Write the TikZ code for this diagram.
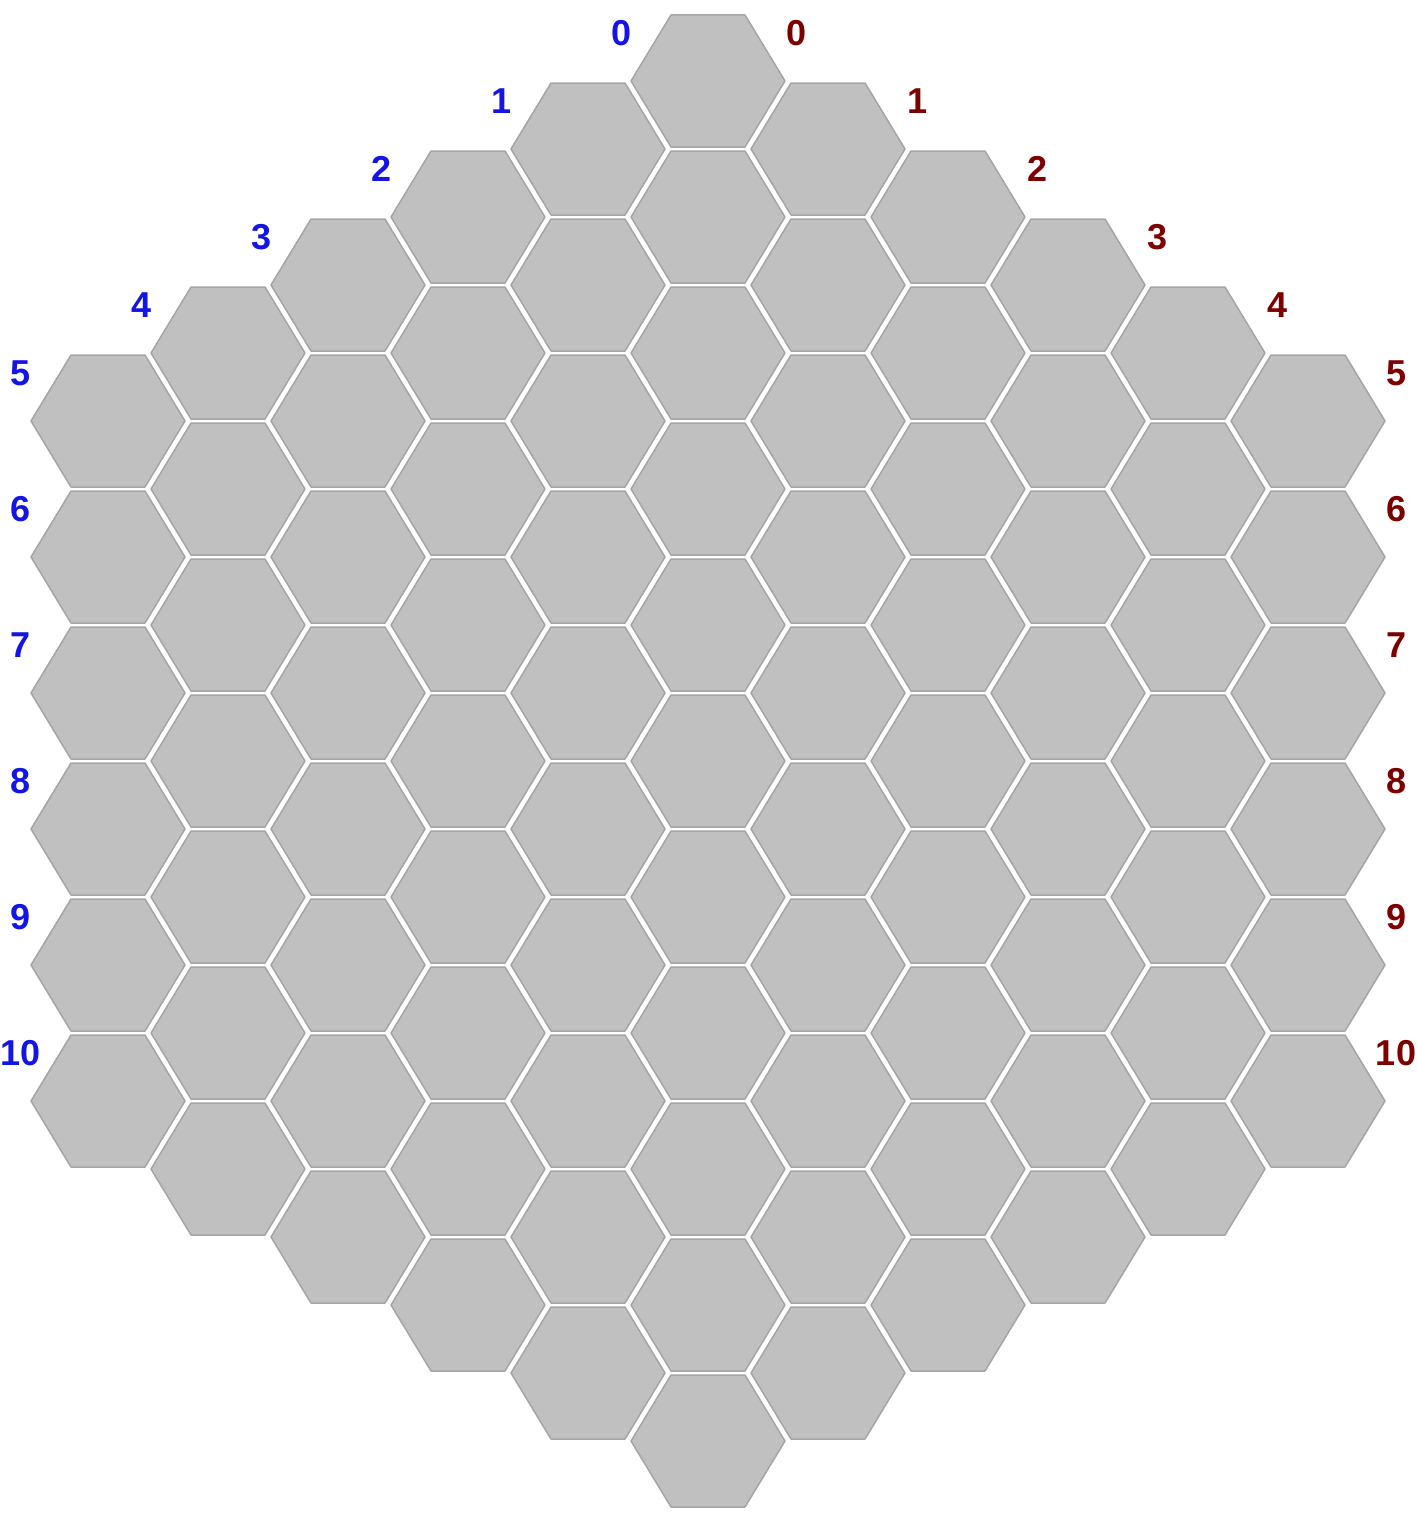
\documentclass[tikz,border=0pt]{standalone}
\usepackage{fontspec}
\setsansfont{Liberation Sans}
\usetikzlibrary{calc}

\definecolor{hexfill}{RGB}{192,192,192}
\definecolor{hexline}{RGB}{165,165,165}
\definecolor{lblblue}{RGB}{20,20,230}
\definecolor{lblred}{RGB}{125,0,0}

\tikzset{
  hexcell/.style={fill=hexfill,draw=hexline,line width=1.5pt,line join=round},
  numlbl/.style={inner sep=0pt,font=\sffamily\bfseries\fontsize{36}{36}\selectfont},
  leftlbl/.style={numlbl,text=lblblue},
  rightlbl/.style={numlbl,text=lblred}
}

\begin{document}
\begin{tikzpicture}[x=1pt,y=-1pt]
\useasboundingbox (0,0) rectangle (1416,1520);

% board: 11 columns of flat-top cells
\foreach \c in {0,...,10}{
  \pgfmathtruncatemacro{\d}{abs(\c-5)}
  \pgfmathtruncatemacro{\n}{10-\d}
  \foreach \r in {0,...,\n}{
    \pgfmathsetmacro{\hx}{108+120*\c}
    \pgfmathsetmacro{\hy}{81+68*\d+136*\r}
    \draw[hexcell] (\hx,\hy) ++(-77,0) -- ++(40,-66) -- ++(74,0)
      -- ++(40,66) -- ++(-40,66) -- ++(-74,0) -- cycle;
  }
}

% row numbers along the upper edges
\foreach \k in {0,...,4}{
  \node[leftlbl] (left\k) at (622-120*\k,33+68*\k) {\k};
  \node[rightlbl] (right\k) at (797+120*\k,33+68*\k) {\k};
}
\foreach \k in {5,...,10}{
  \node[leftlbl] (left\k) at (21,373+136*\k-680) {\k};
  \node[rightlbl] (right\k) at (1396,373+136*\k-680) {\k};
}
\end{tikzpicture}
\end{document}
